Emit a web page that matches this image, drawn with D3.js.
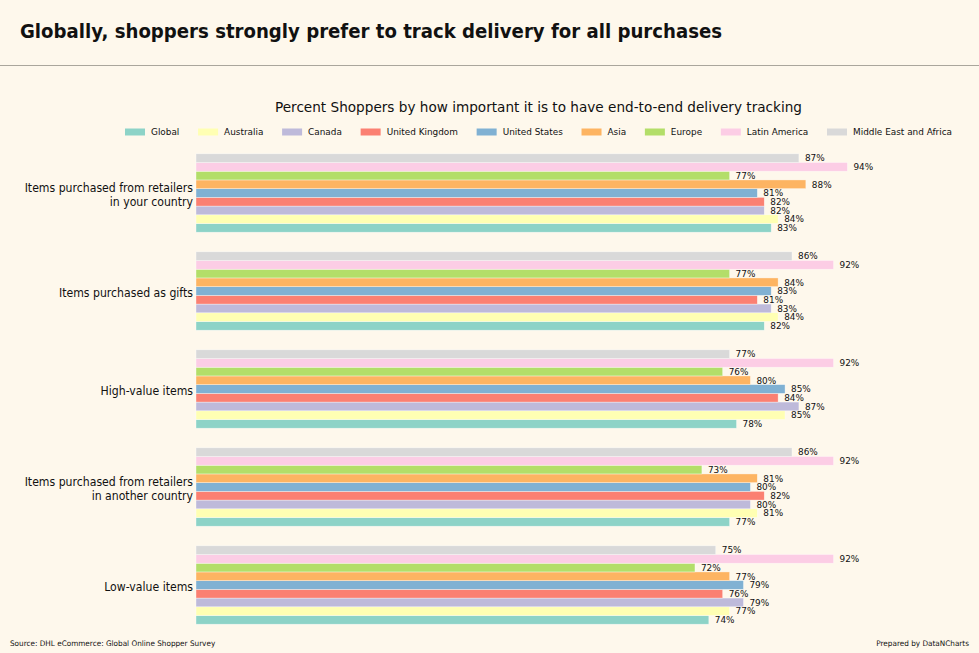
<!DOCTYPE html>
<html><head><meta charset="utf-8">
<script src="https://cdn.jsdelivr.net/npm/d3@7"></script>
<style>
html,body{margin:0;padding:0;background:#fef8ec;}
text{font-family:"DejaVu Sans",sans-serif;fill:#111;}
</style></head>
<body>
<svg id="chart" width="979" height="653"></svg>
<script>
const categories = [
  "Items purchased from retailers\nin your country",
  "Items purchased as gifts",
  "High-value items",
  "Items purchased from retailers\nin another country",
  "Low-value items"
];
const seriesNames = ["Global","Australia","Canada","United Kingdom","United States","Asia","Europe","Latin America","Middle East and Africa"];
const seriesColors = ["#8dd3c7","#ffffb3","#bebada","#fb8072","#80b1d3","#fdb462","#b3de69","#fccde5","#d9d9d9"];
// values per series, in category order
const global_       = [83,82,78,77,74];
const australia     = [84,84,85,81,77];
const canada        = [82,83,87,80,79];
const unitedKingdom = [82,81,84,82,76];
const unitedStates  = [81,83,85,80,79];
const asia          = [88,84,80,81,77];
const europe        = [77,77,76,73,72];
const latinAmerica  = [94,92,92,92,92];
const mea           = [87,86,77,86,75];
const seriesValues = [global_,australia,canada,unitedKingdom,unitedStates,asia,europe,latinAmerica,mea];

const title = "Globally, shoppers strongly prefer to track delivery for all purchases";
const subtitle = "Percent Shoppers by how important it is to have end-to-end delivery tracking";
const source = "Source: DHL eCommerce: Global Online Shopper Survey";
const credit = "Prepared by DataNCharts";

const svg = d3.select("#chart");
svg.append("rect").attr("width",979).attr("height",653).attr("fill","#fef8ec");

// helper: fit text to a target width by squeezing horizontally
function fit(sel, target){
  sel.attr("textLength", target).attr("lengthAdjust","spacingAndGlyphs");
}

// header
const tt = svg.append("text").attr("x",20).attr("y",38).attr("font-size",19).attr("font-weight","bold").text(title);
fit(tt, 702);
svg.append("line").attr("x1",0).attr("x2",979).attr("y1",65.5).attr("y2",65.5).attr("stroke","#aaa69c").attr("stroke-width",1.2);

const xMax = d3.max(seriesValues.flat())*1.05;
const x = d3.scaleLinear().domain([0,xMax]).range([196,880]);
const y0 = d3.scaleBand().domain(categories).range([144,634]).padding(0);
const y1 = d3.scaleBand().domain(seriesNames.slice().reverse()).range([0.1*y0.step(),0.9*y0.step()]).padding(0);

const st = svg.append("text").attr("x",275).attr("y",112).attr("font-size",14.2).text(subtitle);
fit(st, 527);

// legend
const legend = svg.append("g");
const sq = 0.955;
let lx = 0;
const items = [];
seriesNames.forEach((n,i)=>{
  const g = legend.append("g");
  g.append("rect").attr("x",0).attr("y",-3.5).attr("width",20).attr("height",7).attr("fill",seriesColors[i]);
  const t = g.append("text").attr("x",26).attr("y",0).attr("dy","0.35em").attr("font-size",9.3).text(n);
  const w = t.node().getComputedTextLength()*sq;
  fit(t, w);
  items.push({g, w: 26 + w});
});
const gap = (827 - d3.sum(items, d=>d.w)) / (items.length-1);
items.forEach(it=>{ it.g.attr("transform",`translate(${125+lx},132)`); lx += it.w + gap; });

// bars
const groups = svg.append("g").selectAll("g").data(categories).join("g")
  .attr("transform",d=>`translate(0,${y0(d)})`);
seriesNames.forEach((s,si)=>{
  groups.append("rect")
    .attr("x",x(0))
    .attr("y",y1(s))
    .attr("width",(d,ci)=>x(seriesValues[si][ci])-x(0))
    .attr("height",y1.bandwidth())
    .attr("fill",seriesColors[si])
    .attr("stroke","#ffffff").attr("stroke-opacity",0.6).attr("stroke-width",0.6);
  groups.append("text")
    .attr("x",(d,ci)=>x(seriesValues[si][ci])+6)
    .attr("y",y1(s)+y1.bandwidth()/2)
    .attr("dy","0.35em")
    .attr("font-size",9.3)
    .each(function(d,ci){ d3.select(this).text(seriesValues[si][ci]+"%"); const w=this.getComputedTextLength()*sq; fit(d3.select(this), w); });
});

// category labels
groups.each(function(d){
  const lines = d.split("\n");
  const g = d3.select(this);
  const cy = y0.bandwidth()/2 + 1.5;
  const lh = 14;
  lines.forEach((ln,i)=>{
    const t = g.append("text").attr("x",193).attr("y",cy + (i-(lines.length-1)/2)*lh)
      .attr("dy","0.35em").attr("text-anchor","end").attr("font-size",12).text(ln);
    fit(t, t.node().getComputedTextLength()*0.91);
  });
});

// footer
const s1 = svg.append("text").attr("x",10).attr("y",646).attr("font-size",7.6).text(source);
fit(s1, s1.node().getComputedTextLength()*0.958);
const s2 = svg.append("text").attr("x",969).attr("y",646).attr("text-anchor","end").attr("font-size",7.6).text(credit);
fit(s2, s2.node().getComputedTextLength()*0.958);
</script>
</body></html>
